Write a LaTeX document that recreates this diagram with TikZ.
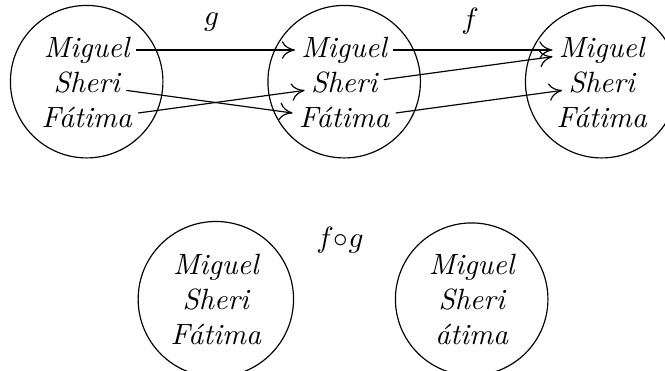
\documentclass[tikz,border=0pt]{standalone}
\usetikzlibrary{positioning, arrows.meta}

\begin{document}
\begin{tikzpicture}[
        >={To[length=4.5pt, width=6pt]},
        conj/.style={draw, circle, minimum size=1.83cm, align=center, font=\itshape},
        nome/.style={inner sep=2pt, font=\itshape, text height=1.5ex, text depth=.25ex}
      ]
        \useasboundingbox (0,0) rectangle (7.98,-4.44);
        % conjuntos de cima
        \node[conj] (A) at (1.04,-0.98) {};
        \node[conj] (B) at (4.13,-0.98) {};
        \node[conj] (C) at (7.22,-0.98) {};
        \foreach \c in {A,B,C} {
          \node[nome] (\c m) at ([yshift=0.38cm]\c.center) {Miguel};
          \node[nome] (\c s) at ([yshift=-0.04cm]\c.center) {Sheri};
          \node[nome] (\c f) at ([yshift=-0.46cm]\c.center) {Fátima};
        }
        % g
        \draw[->] (Am)--(Bm);
        \draw[->] (As)--(Bf);
        \draw[->] (Af)--(Bs);
        % f
        \draw[->] (Bm)--(Cm);
        \draw[->] (Bs)--(Cm);
        \draw[->] (Bf)--(Cs);
        \node (g) at (2.54,-0.26) {$g$};
        \node (f) at (5.64,-0.25) {$f$};
        % composta
        \node[conj] (D) at (2.59,-3.59) {Miguel\\Sheri\\Fátima};
        \node[conj] (E) at (5.66,-3.59) {Miguel\\Sheri\\átima};
        \node (fg) at (4.08,-2.88) {$f{\circ}g$};
      \end{tikzpicture}
\end{document}
